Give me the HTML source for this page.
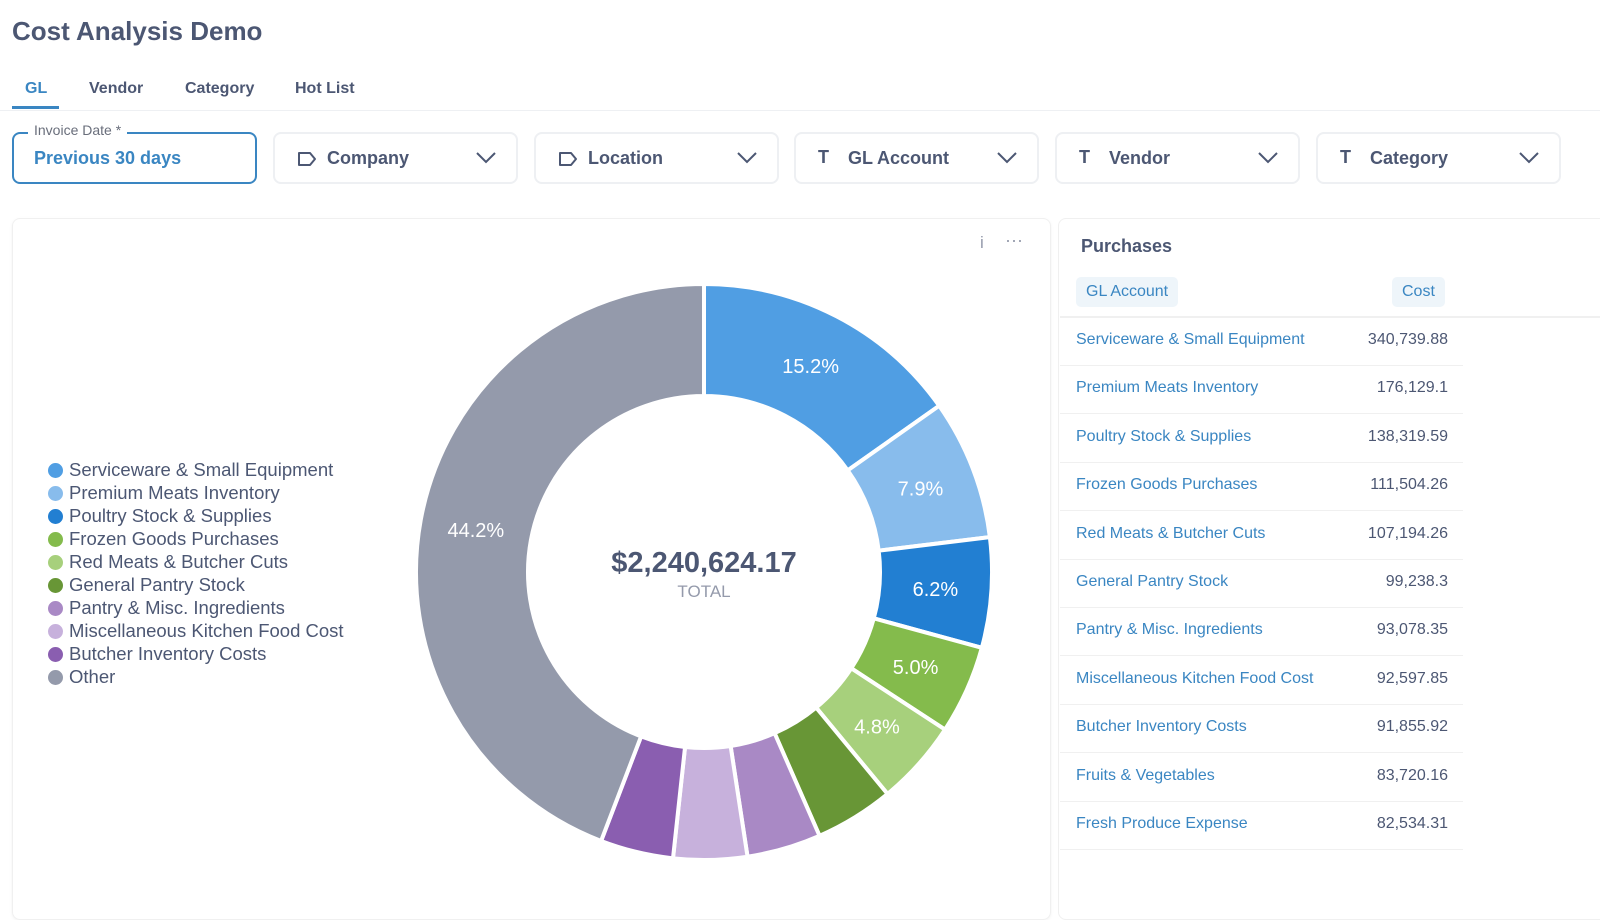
<!DOCTYPE html>
<html><head><meta charset="utf-8"><style>
body{margin:0;width:1600px;height:885px;overflow:hidden;background:#fff;font-family:"Liberation Sans",sans-serif;position:relative;color:#4C5773}
.a{position:absolute}
.tab{position:absolute;top:80px;font-size:16px;color:#4C5773;font-weight:bold}
.f{position:absolute;top:132px;height:52px;border:2px solid #EEF0F3;border-radius:8px;box-sizing:border-box;font-size:18px;font-weight:bold;color:#4C5773}
.f .t{position:absolute;left:52px;top:14px}
.f .ic{position:absolute;left:22px;top:13px;font-size:18px;color:#4C5773}
.f svg.ch{position:absolute;right:20px;top:18px}
.f svg.tg{position:absolute;left:22px;top:17px}
.row{position:absolute;left:1060px;width:403px;height:48px;border-bottom:1px solid #F0F0F0;font-size:16px}
.row .n{position:absolute;left:16px;top:14px;color:#3A86C2}
.row .v{position:absolute;right:15px;top:14px;color:#4C5773}
.lg{position:absolute;left:48px;font-size:18.5px;color:#4C5773;white-space:nowrap}
.lg i{display:inline-block;width:15px;height:15px;border-radius:50%;vertical-align:-2px;margin-right:6px}
</style></head><body>
<div class="a" style="left:12px;top:16px;font-size:26px;font-weight:bold;color:#4C5773">Cost Analysis Demo</div>
<div class="tab" style="left:25px;color:#3A86C2">GL</div>
<div class="a" style="left:12px;top:106px;width:47px;height:3px;background:#3A86C2"></div>
<div class="tab" style="left:89px">Vendor</div>
<div class="tab" style="left:185px">Category</div>
<div class="tab" style="left:295px">Hot List</div>
<div class="a" style="left:0;top:110px;width:1600px;height:1px;background:#EEF0F3"></div>

<div class="f" style="left:12px;width:245px;border-color:#3A86C2;color:#3A86C2"><span class="t" style="left:20px;color:#3A86C2">Previous 30 days</span></div>
<div class="a" style="left:28px;top:122px;background:#fff;padding:0 6px;font-size:14px;color:#696E7B">Invoice Date *</div>
<div class="f" style="left:273px;width:245px"><svg class="tg" width="20" height="16"><path d="M2 2h11l5 6-5 6H2z" stroke="#4C5773" fill="none" stroke-width="2" stroke-linejoin="round"/></svg><span class="t">Company</span><svg class="ch" width="20" height="12"><path d="M1 1l9 9 9-9" stroke="#4C5773" fill="none" stroke-width="2"/></svg></div>
<div class="f" style="left:534px;width:245px"><svg class="tg" width="20" height="16"><path d="M2 2h11l5 6-5 6H2z" stroke="#4C5773" fill="none" stroke-width="2" stroke-linejoin="round"/></svg><span class="t">Location</span><svg class="ch" width="20" height="12"><path d="M1 1l9 9 9-9" stroke="#4C5773" fill="none" stroke-width="2"/></svg></div>
<div class="f" style="left:794px;width:245px"><span class="ic">T</span><span class="t">GL Account</span><svg class="ch" width="20" height="12"><path d="M1 1l9 9 9-9" stroke="#4C5773" fill="none" stroke-width="2"/></svg></div>
<div class="f" style="left:1055px;width:245px"><span class="ic">T</span><span class="t">Vendor</span><svg class="ch" width="20" height="12"><path d="M1 1l9 9 9-9" stroke="#4C5773" fill="none" stroke-width="2"/></svg></div>
<div class="f" style="left:1316px;width:245px"><span class="ic">T</span><span class="t">Category</span><svg class="ch" width="20" height="12"><path d="M1 1l9 9 9-9" stroke="#4C5773" fill="none" stroke-width="2"/></svg></div>

<div class="a" style="left:12px;top:218px;width:1037px;height:700px;border:1px solid #F0F0F0;border-radius:8px;box-shadow:0 1px 3px rgba(0,0,0,.05)"></div>
<div class="a" style="left:980px;top:233px;font-size:17px;color:#949AAB">i</div>
<div class="a" style="left:1005px;top:230px;font-size:18px;color:#949AAB">···</div>

<div id="legend"></div>
<svg class="a" id="donut" style="left:0;top:0" width="1050" height="885"></svg>

<div class="a" style="left:1058px;top:218px;width:560px;height:700px;border:1px solid #F0F0F0;border-radius:8px"></div>
<div class="a" style="left:1081px;top:236px;font-size:18px;font-weight:bold;color:#4C5773">Purchases</div>
<div class="a" style="left:1076px;top:277px;padding:6px 10px;background:#EEF5FA;border-radius:5px;font-size:16px;color:#3A86C2">GL Account</div>
<div class="a" style="left:1392px;top:277px;padding:6px 10px;background:#EEF5FA;border-radius:5px;font-size:16px;color:#3A86C2">Cost</div>
<div class="a" style="left:1060px;top:316px;width:540px;height:2px;background:#F0F0F0"></div>
<div id="rows"></div>

<script>
const categories=["Serviceware & Small Equipment","Premium Meats Inventory","Poultry Stock & Supplies","Frozen Goods Purchases","Red Meats & Butcher Cuts","General Pantry Stock","Pantry & Misc. Ingredients","Miscellaneous Kitchen Food Cost","Butcher Inventory Costs","Other"];
const values=[340739.88,176129.1,138319.59,111504.26,107194.26,99238.3,93078.35,92597.85,91855.92,990000];
const colors=["#509EE3","#88BCEC","#227FD2","#84BB4C","#A7D07C","#689636","#A989C5","#C7B1DC","#8A5EB0","#949AAB"];
const tableNames=["Serviceware & Small Equipment","Premium Meats Inventory","Poultry Stock & Supplies","Frozen Goods Purchases","Red Meats & Butcher Cuts","General Pantry Stock","Pantry & Misc. Ingredients","Miscellaneous Kitchen Food Cost","Butcher Inventory Costs","Fruits & Vegetables","Fresh Produce Expense"];
const tableCosts=["340,739.88","176,129.1","138,319.59","111,504.26","107,194.26","99,238.3","93,078.35","92,597.85","91,855.92","83,720.16","82,534.31"];
const totalLabel="$2,240,624.17";

const NS="http://www.w3.org/2000/svg";
const svg=document.getElementById('donut');
const cx=704,cy=572,R=288,r=176;
const total=values.reduce((a,b)=>a+b,0);
function pt(a,rad){return [cx+rad*Math.sin(a),cy-rad*Math.cos(a)];}
let acc=0;
values.forEach((v,i)=>{
  const a0=acc/total*2*Math.PI;acc+=v;const a1=acc/total*2*Math.PI;
  const lg=a1-a0>Math.PI?1:0;
  const p1=pt(a0,R),p2=pt(a1,R),p3=pt(a1,r),p4=pt(a0,r);
  const p=document.createElementNS(NS,'path');
  p.setAttribute('d',`M${p1}A${R},${R} 0 ${lg} 1 ${p2}L${p3}A${r},${r} 0 ${lg} 0 ${p4}Z`);
  p.setAttribute('fill',colors[i]);p.setAttribute('stroke','#fff');p.setAttribute('stroke-width','4');
  
  
  svg.appendChild(p);
  const pct=v/total*100;
  if(pct>=4.7){
    const m=pt((a0+a1)/2,232);
    const t=document.createElementNS(NS,'text');
    t.setAttribute('x',m[0]);t.setAttribute('y',m[1]+7);t.setAttribute('text-anchor','middle');
    t.setAttribute('font-size','20');t.setAttribute('fill','#fff');t.setAttribute('font-family','Liberation Sans, sans-serif');
    t.textContent=pct.toFixed(1)+'%';
    
    
    svg.appendChild(t);
  }
});
const ct=document.createElementNS(NS,'text');
ct.setAttribute('x',cx);ct.setAttribute('y',572);ct.setAttribute('text-anchor','middle');ct.setAttribute('font-size','29');ct.setAttribute('font-weight','bold');ct.setAttribute('fill','#4C5773');ct.setAttribute('font-family','Liberation Sans, sans-serif');
ct.textContent=totalLabel;


svg.appendChild(ct);
const ct2=document.createElementNS(NS,'text');
ct2.setAttribute('x',cx);ct2.setAttribute('y',597);ct2.setAttribute('text-anchor','middle');ct2.setAttribute('font-size','17');ct2.setAttribute('fill','#949AAB');ct2.setAttribute('font-family','Liberation Sans, sans-serif');
ct2.textContent='TOTAL';


svg.appendChild(ct2);

const lgEl=document.getElementById('legend');
categories.forEach((c,i)=>{
  const d=document.createElement('div');d.className='lg';d.style.top=(459+i*23)+'px';
  d.innerHTML=`<i style="background:${colors[i]}"></i>${c.replace('&','&amp;')}`;
  
  
  lgEl.appendChild(d);
});
const rowsEl=document.getElementById('rows');
tableNames.forEach((n,i)=>{
  const d=document.createElement('div');d.className='row';d.style.top=(317+i*48.4)+'px';
  d.innerHTML=`<span class="n"></span><span class="v"></span>`;
  d.children[0].textContent=n;d.children[1].textContent=tableCosts[i];
  
  
  rowsEl.appendChild(d);
});
</script>
</body></html>
